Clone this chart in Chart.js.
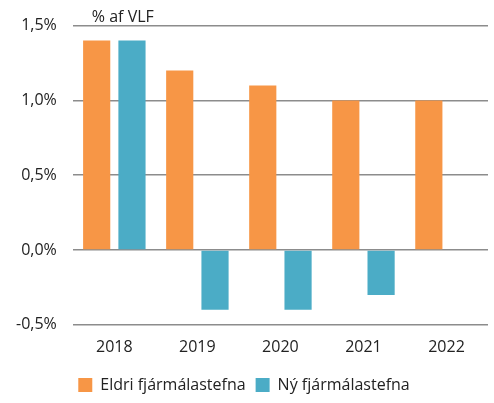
<!DOCTYPE html>
<html>
<head>
<meta charset="utf-8">
<script src="https://cdn.jsdelivr.net/npm/chart.js@4/dist/chart.umd.min.js"></script>
<style>
  body { margin: 0; background: #fff; }
  #wrap { width: 494px; height: 403px; }
</style>
</head>
<body>
<div id="wrap"><canvas id="grafStefna"></canvas></div>
<script>
const ar = ['2018', '2019', '2020', '2021', '2022'];
const eldri = [1.4, 1.2, 1.1, 1.0, 1.0];
const ny = [1.4, -0.4, -0.4, -0.3, null];
const yTicks = [-0.5, 0, 0.5, 1.0, 1.5];

const leturgerd = "'Open Sans', sans-serif";

// eining efst vinstra megin
const einingPlugin = {
    id: 'eining',
    afterDraw(chart) {
        const c = chart.ctx;
        c.save();
        c.font = "16px " + leturgerd;
        c.fillStyle = '#222';
        c.textBaseline = 'bottom';
        c.fillText('% af VLF', chart.chartArea.left + 19, chart.chartArea.top);
        c.restore();
    }
};

new Chart(document.getElementById('grafStefna'), {
    type: 'bar',
    data: {
        labels: ar,
        datasets: [{
            label: 'Eldri fjármálastefna',
            data: eldri,
            backgroundColor: '#F79646',
            borderWidth: 0
        }, {
            label: 'Ný fjármálastefna',
            data: ny,
            backgroundColor: '#4BACC6',
            borderWidth: 0
        }]
    },
    options: {
        responsive: true,
        maintainAspectRatio: false,
        animation: false,
        categoryPercentage: 0.85,
        barPercentage: 0.77,
        layout: { padding: { top: 17, right: 6, left: 0, bottom: 0 } },
        plugins: {
            legend: {
                position: 'bottom',
                labels: {
                    color: '#222',
                    boxWidth: 14,
                    boxHeight: 14,
                    padding: 10,
                    font: { size: 16, family: leturgerd }
                }
            },
            tooltip: { enabled: false }
        },
        scales: {
            y: {
                min: -0.5,
                max: 1.5,
                afterBuildTicks(axis) {
                    axis.ticks = yTicks.map(v => ({ value: v }));
                },
                ticks: {
                    color: '#222',
                    padding: 16,
                    font: { size: 16, family: leturgerd },
                    callback: v => v.toFixed(1).replace('.', ',') + '%'
                },
                grid: { color: '#8c8c8c', lineWidth: 1.5, drawTicks: false },
                border: { display: false }
            },
            x: {
                afterFit(axis) { axis.height += 5; },
                ticks: { color: '#222', padding: 5, font: { size: 16, family: leturgerd } },
                grid: { display: false },
                border: { display: false }
            }
        }
    },
    plugins: [einingPlugin]
});
</script>
</body>
</html>
